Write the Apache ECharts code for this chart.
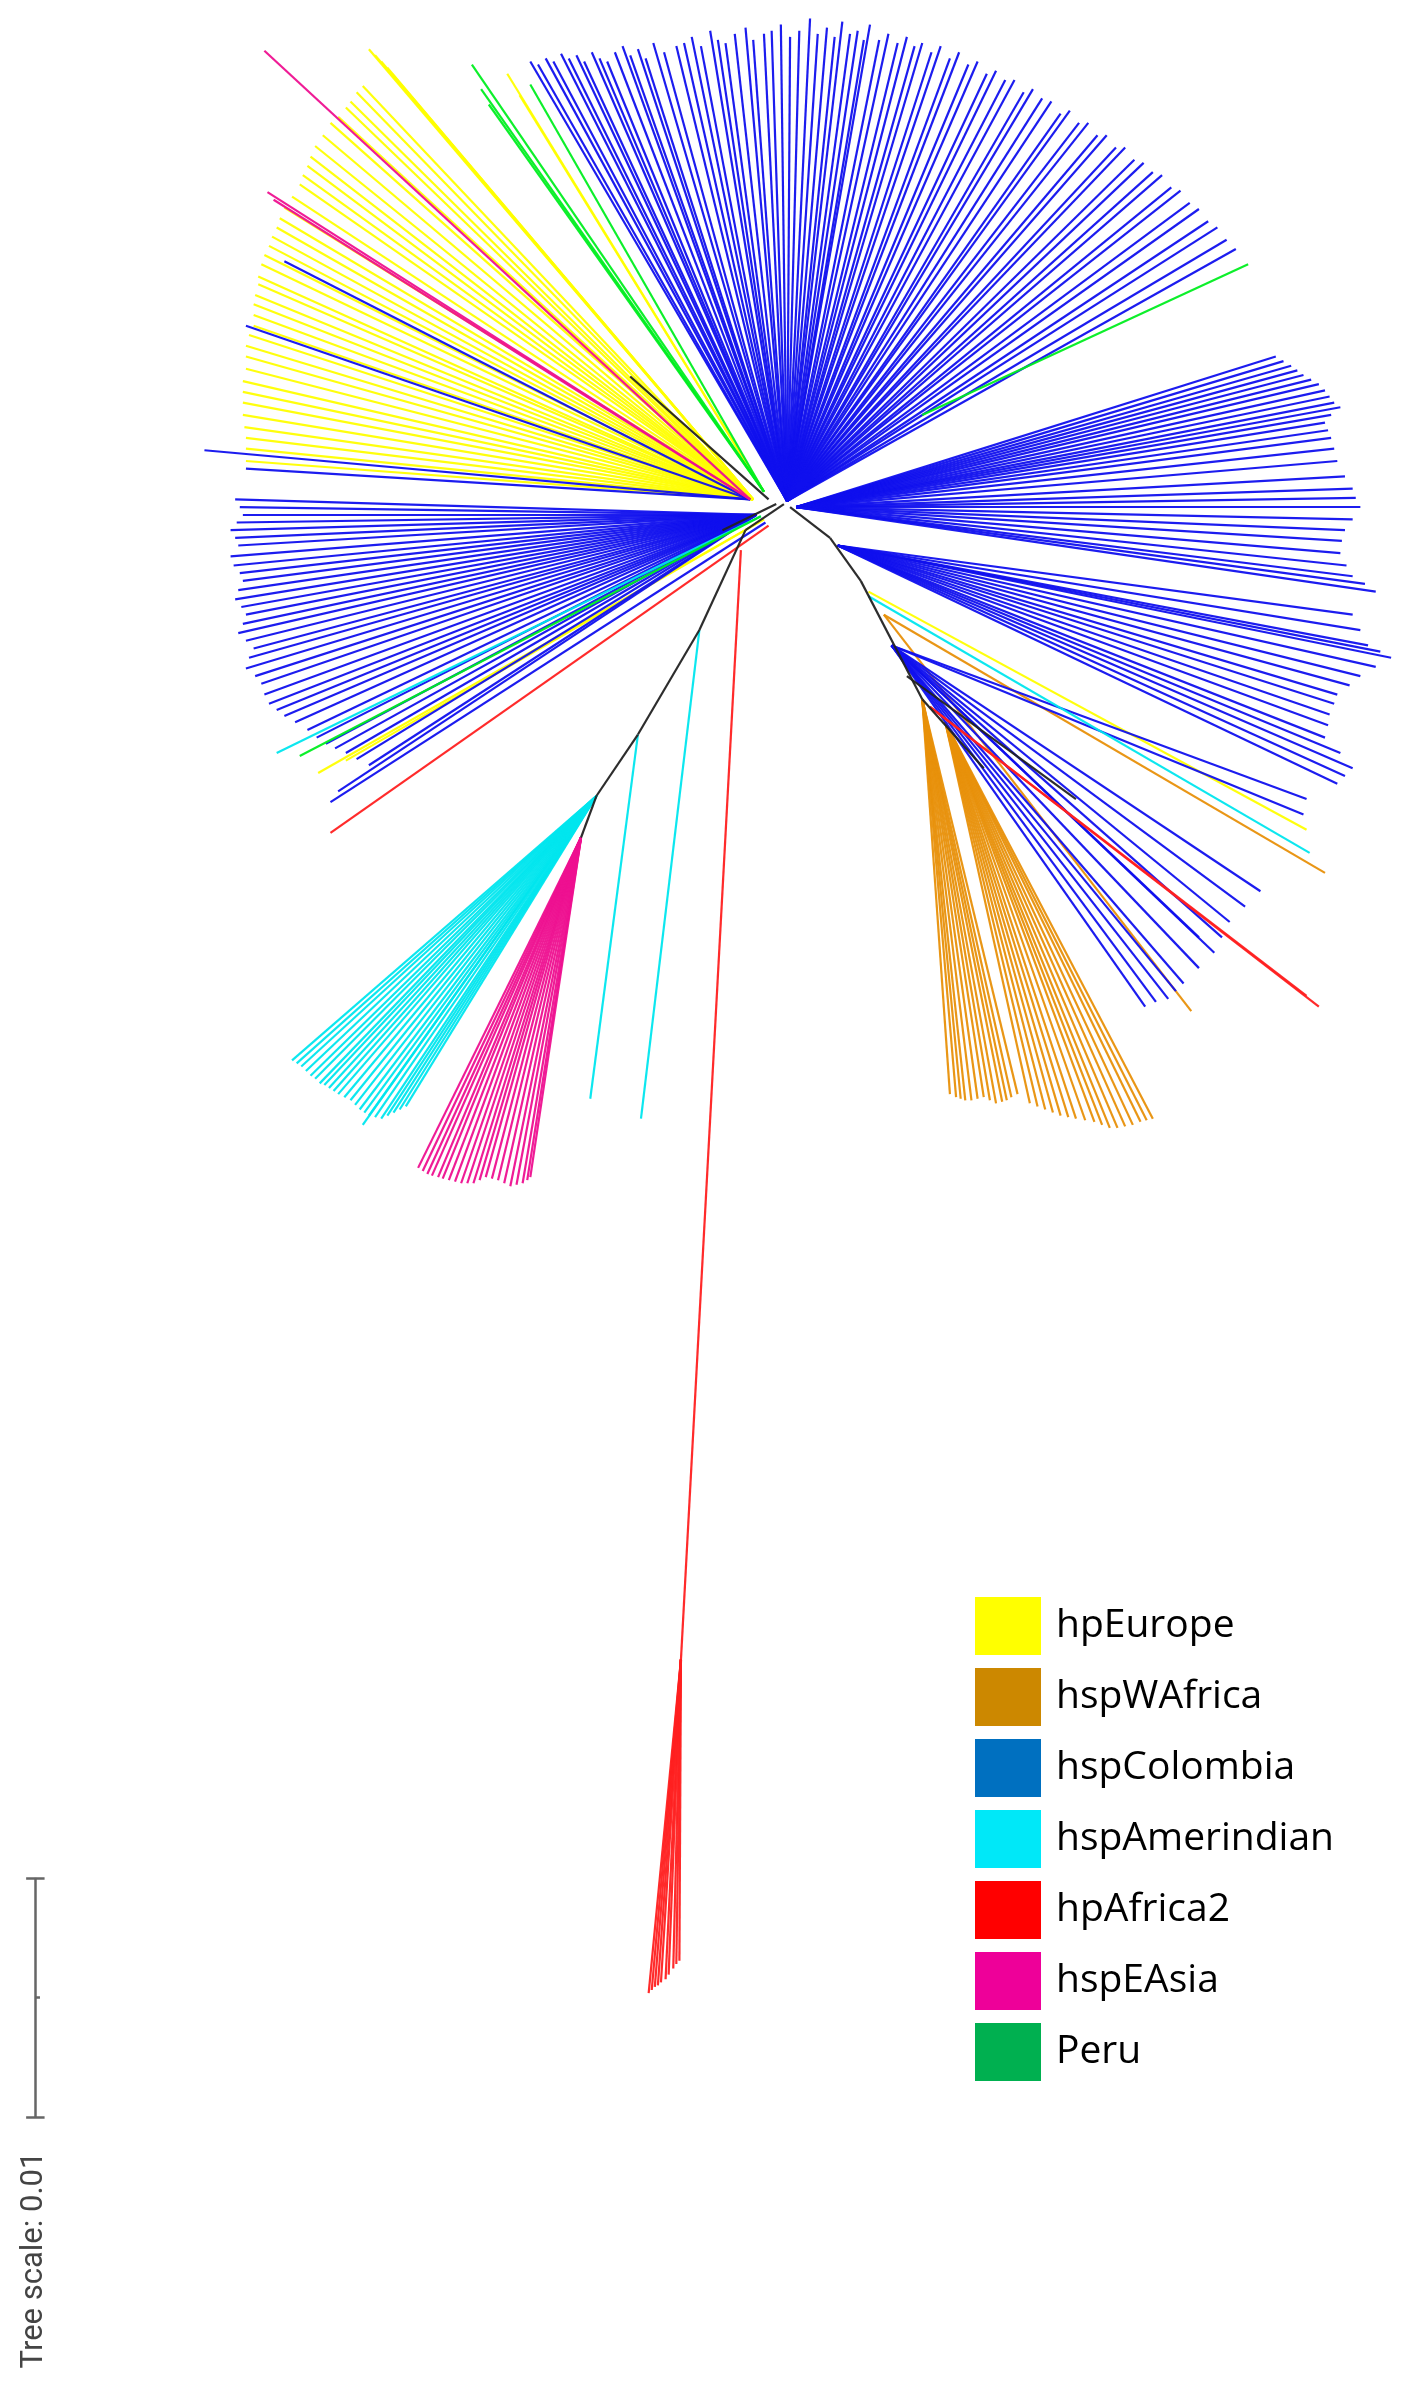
<!DOCTYPE html>
<html>
<head>
<meta charset="utf-8">
<script src="https://cdn.jsdelivr.net/npm/echarts@6/dist/echarts.min.js"></script>
<style>html,body{margin:0;padding:0;background:#fff}#chart{width:1408px;height:2408px}</style>
</head>
<body>
<div id="chart"></div>
<script>
// groups and colours
var groups = ['hpEurope', 'hspWAfrica', 'hspColombia', 'hspAmerindian', 'hpAfrica2', 'hspEAsia', 'Peru', 'internal'];
var lineColors = ['#ffff00', '#e8900a', '#1010ee', '#00e6ee', '#ff2020', '#ee1090', '#00ee20', '#222222'];
var legendColors = ['#ffff00', '#cc8800', '#0070c0', '#00e8f8', '#ff0000', '#ee0099', '#00b050'];

// backbone (internal branches), tree units = picture units of the reference
var backbone = [
  [[510, 328], [485, 345]], [[485, 345], [455, 410]], [[455, 410], [415, 478]], [[415, 478], [388, 518]],
  [[388, 518], [378, 545]], [[514, 330], [540, 350]], [[540, 350], [560, 378]], [[560, 378], [600, 455]],
  [[500, 325], [410, 245]], [[505, 328], [470, 345]], [[600, 455], [640, 500]], [[590, 440], [700, 520]]
];

// fans: group, origin, tips
var fans = [
  ['hspColombia', [512, 326], [[345,40],[350,42],[355,38],[360,40],[365,35],[370,38],[375,36],[380,40],[385,34],[390,38],[395,40],[400,34],[405,30],[410,36],[415,32],[420,38],[425,28],[432,34],[440,30],[445,28],[450,24],[456,30],[462,20],[467,26],[472,28],[478,22],[485,18],[490,26],[497,22],[502,20],[508,16],[514,24],[520,20],[527,12],[532,22],[538,18],[543,24],[548,14],[553,22],[558,20],[562,26],[566,16],[572,26],[578,22],[584,28],[590,24],[595,30],[600,28],[606,34],[612,30],[618,38],[624,34],[630,42],[636,40],[642,48],[648,46],[654,52],[660,52],[666,60],[672,58],[678,64],[684,66],[690,74],[696,72],[702,80],[708,80],[714,88],[720,88],[726,96],[732,96],[738,104],[744,106],[750,112],[756,114],[762,122],[768,124],[774,132],[780,136],[786,144],[792,148],[798,156],[804,162]]],
  ['Peru', [600, 270], [[812,172]]],
  ['Peru', [497, 320], [[307,42],[313,58],[318,68],[345,55]]],
  ['hpEurope', [497, 320], [[330,48],[338,62]]],
  ['hpEurope', [490, 325], [[240,32],[244,36],[248,40],[252,44],[255,48],[236,56],[232,60],[228,66],[225,70],[220,76],[215,80],[210,88],[205,95],[202,102],[200,108],[197,114],[195,120],[190,128],[185,135],[182,142],[180,148],[177,154],[175,160],[172,166],[170,172],[168,180],[168,185],[166,192],[165,198],[165,205],[165,212],[162,218],[160,225],[160,232],[160,240],[158,248],[158,255],[158,262],[158,270],[159,278],[160,285],[160,292],[160,300]]],
  ['hspEAsia', [488, 325], [[172,33],[174,125],[178,130]]],
  ['hspColombia', [488, 325], [[185,170],[160,212],[133,293],[160,305]]],
  ['hspColombia', [492, 335], [[153,325],[156,330],[158,335],[154,340],[150,345],[153,350],[155,355],[150,362],[152,368],[156,373],[158,378],[155,384],[153,390],[157,395],[160,400],[158,406],[155,412],[160,417],[165,422],[162,428],[160,435],[166,440],[170,445],[172,452],[175,458],[180,462],[185,466],[192,470],[200,475],[206,480],[212,484],[218,487],[225,490],[232,494],[240,498],[220,515]]],
  ['hspAmerindian', [495, 336], [[180,490]]],
  ['Peru', [495, 336], [[195,492]]],
  ['hpEurope', [497, 338], [[207,503],[225,495]]],
  ['hspColombia', [498, 340], [[215,522]]],
  ['hpAfrica2', [500, 342], [[215,542]]],
  ['hspColombia', [518, 330], [[830,232],[835,235],[840,238],[844,241],[848,244],[853,247],[858,250],[862,254],[865,258],[868,262],[872,265],[866,270],[862,275],[864,280],[866,285],[868,292],[870,300],[875,310],[880,318],[882,324],[885,330],[880,338],[875,345],[873,352],[872,360],[876,368],[880,375],[888,380],[895,385]]],
  ['hspColombia', [545, 355], [[880,400],[885,410],[890,420],[898,424],[905,428],[895,434],[885,440],[878,446],[870,452],[868,458],[865,465],[864,472],[862,480],[872,490],[880,500],[875,505],[870,510]]],
  ['hspColombia', [580, 420], [[850,520],[848,530],[820,580],[800,600],[795,610],[790,620],[780,630],[770,640],[765,645],[760,650],[752,652],[745,655],[780,610],[810,590]]],
  ['hpEurope', [565, 385], [[850,540]]],
  ['hspAmerindian', [565, 388], [[852,555]]],
  ['hspWAfrica', [575, 400], [[862,568],[775,658]]],
  ['hpAfrica2', [605, 460], [[858,655],[850,648]]],
  ['hspWAfrica', [600, 455], [[618,712],[622,714],[625,715],[628,716],[632,716],[636,715],[640,714],[644,716],[648,718],[652,717],[655,716],[658,714],[662,712]]],
  ['hspWAfrica', [615, 470], [[670,718],[675,720],[680,722],[685,724],[690,726],[695,727],[700,728],[706,729],[712,730],[717,732],[722,734],[727,734],[732,733],[737,732],[742,730],[746,729],[750,728]]],
  ['hpAfrica2', [482, 358], [[443,1080]]],
  ['hpAfrica2', [443, 1080], [[422,1297],[424,1295],[426,1293],[428,1292],[430,1290],[433,1288],[435,1285],[438,1281],[440,1278],[442,1276]]],
  ['hspAmerindian', [455, 410], [[417,728]]],
  ['hspAmerindian', [415, 478], [[384,715]]],
  ['hspAmerindian', [388, 518], [[190,690],[193,692],[196,694],[199,697],[202,700],[205,702],[208,705],[211,706],[214,708],[217,710],[220,712],[224,714],[228,716],[231,719],[234,722],[237,724],[240,726],[244,727],[248,728],[252,726],[256,724],[260,722],[264,720],[236,732]]],
  ['hspEAsia', [378, 545], [[272,760],[275,762],[278,764],[281,765],[285,766],[288,767],[292,768],[296,769],[300,770],[304,770],[308,770],[312,768],[316,766],[320,767],[324,768],[328,770],[332,772],[336,771],[340,770],[343,768],[345,766]]]
];

var scaleBar = [[[23, 1222], [23, 1378]], [[17, 1222], [29, 1222]], [[17, 1378], [29, 1378]], [[23, 1300], [26, 1300]]];

var segs = {};
groups.forEach(function (g) { segs[g] = []; });
backbone.forEach(function (s) { segs.internal.push({ coords: s }); });
fans.forEach(function (f) {
  f[2].forEach(function (t) { segs[f[0]].push({ coords: [f[1], t] }); });
});

var series = groups.map(function (g, i) {
  return {
    name: g, type: 'lines', coordinateSystem: 'cartesian2d', polyline: false,
    data: segs[g], silent: true,
    itemStyle: { color: legendColors[i] || '#222' },
    lineStyle: { color: lineColors[i], width: 2.2, opacity: 0.95 }
  };
});
series.push({
  name: 'scale', type: 'lines', coordinateSystem: 'cartesian2d', silent: true,
  data: scaleBar.map(function (s) { return { coords: s }; }),
  lineStyle: { color: '#666', width: 2.5, opacity: 1 }
});

var chart = echarts.init(document.getElementById('chart'));
chart.setOption({
  animation: false,
  grid: { left: 0, right: 0, top: 0, bottom: 0 },
  xAxis: { type: 'value', min: 0, max: 916, show: false },
  yAxis: { type: 'value', min: 0, max: 1567, inverse: true, show: false },
  legend: {
    orient: 'vertical', left: 970, top: 1592, itemWidth: 66, itemHeight: 58, itemGap: 13,
    icon: 'rect', selectedMode: false,
    textStyle: { fontSize: 39, fontFamily: 'Open Sans', color: '#000', padding: [0, 0, 0, 10] },
    data: groups.slice(0, 7).map(function (g, i) {
      return { name: g, itemStyle: { color: legendColors[i], borderWidth: 0 }, lineStyle: { width: 0 } };
    })
  },
  graphic: [{
    type: 'text', x: 34, y: 2260, rotation: Math.PI / 2,
    style: { text: 'Tree scale: 0.01', fontSize: 31, fontFamily: 'Roboto', fill: '#444', align: 'center', verticalAlign: 'middle' }
  }],
  series: series
});
</script>
</body>
</html>
